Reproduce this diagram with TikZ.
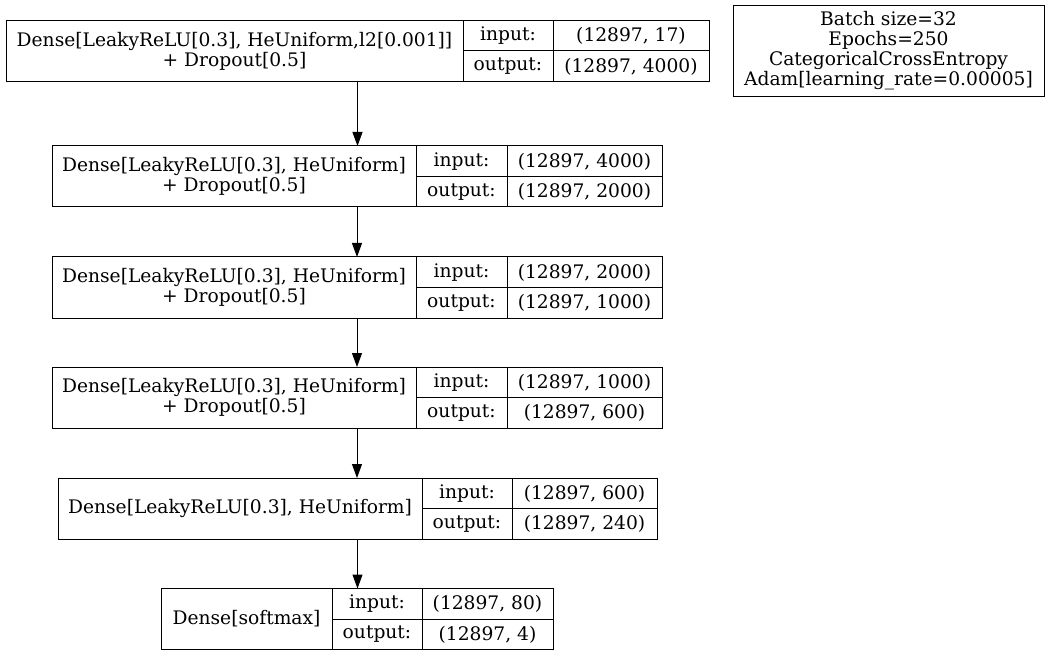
\documentclass[tikz,border=0pt]{standalone}
\usepackage{fontspec}
\setmainfont{DejaVu Serif}
\usetikzlibrary {arrows.meta}

\begin{document}
\begin{tikzpicture}[x=0.75pt, y=-0.75pt, line width=0.75pt,
    font=\fontsize{14}{15}\selectfont,
    layer/.style={draw, inner sep=0pt, outer sep=0pt},
    txt/.style={inner sep=0pt, align=center},
    edge/.style={arrows = {-Triangle[length=10.5pt, width=7.5pt]}}]
        \useasboundingbox (0, 0) rectangle (1050, 656);

        % layer boxes: left / divider / divider / right / top
        \foreach \n/\xl/\xa/\xb/\xr/\yt/\lab/\vin/\vout in {
            1/6/463/553/709/20.5/{Dense[LeakyReLU[0.3], HeUniform,l2[0.001]]\\+ Dropout[0.5]}/{(12897, 17)}/{(12897, 4000)},
            2/52/416/507/662/146/{Dense[LeakyReLU[0.3], HeUniform]\\+ Dropout[0.5]}/{(12897, 4000)}/{(12897, 2000)},
            3/52/416/507/662/257/{Dense[LeakyReLU[0.3], HeUniform]\\+ Dropout[0.5]}/{(12897, 2000)}/{(12897, 1000)},
            4/52/416/507/662/367/{Dense[LeakyReLU[0.3], HeUniform]\\+ Dropout[0.5]}/{(12897, 1000)}/{(12897, 600)},
            5/58/422/512/657/478/{Dense[LeakyReLU[0.3], HeUniform]}/{(12897, 600)}/{(12897, 240)},
            6/161/332/422/553/588.5/{Dense[softmax]}/{(12897, 80)}/{(12897, 4)}}{
          \node [layer, minimum width={(\xr-\xl)*0.75}, minimum height=45.75] (L\n) at ({(\xl+\xr)/2}, \yt+30.5) {};
          \draw (\xa, \yt) -- (\xa, \yt+61);
          \draw (\xb, \yt) -- (\xb, \yt+61);
          \draw (\xa, \yt+30.5) -- (\xr, \yt+30.5);
          \node [txt] (lab\n) at ({(\xl+\xa)/2}, \yt+30.5) {\lab};
          \node [txt] (in\n) at ({(\xa+\xb)/2}, \yt+15.5) {input:};
          \node [txt] (out\n) at ({(\xa+\xb)/2}, \yt+46) {output:};
          \node [txt] (vin\n) at ({(\xb+\xr)/2}, \yt+15.5) {\vin};
          \node [txt] (vout\n) at ({(\xb+\xr)/2}, \yt+46) {\vout};
        }

        \node [layer, txt, minimum width=233.25, minimum height=68.25] (train) at (888.5, 51)
          {Batch size=32\\Epochs=250\\CategoricalCrossEntropy\\Adam[learning\_rate=0.00005]};

        \foreach \a/\b in {1/2, 2/3, 3/4, 4/5, 5/6}
          \draw [edge] (L\a.south) -- (L\a.south |- L\b.north);
\end{tikzpicture}
\end{document}
